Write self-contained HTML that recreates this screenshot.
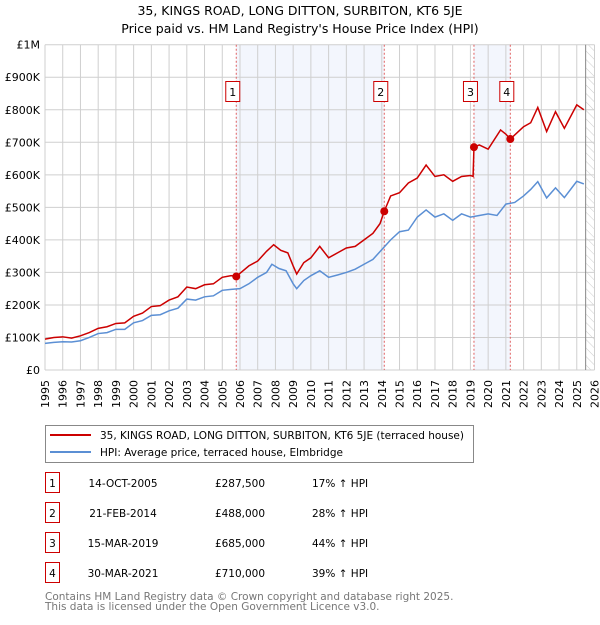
<!DOCTYPE html>
<html><head><meta charset="utf-8"><style>
body{margin:0;background:#fff;font-family:"Liberation Sans","DejaVu Sans",sans-serif;}
svg text{font-family:"DejaVu Sans","Liberation Sans",sans-serif;}
</style></head><body>
<svg id="chart" width="600" height="620" viewBox="0 0 600 620" xmlns="http://www.w3.org/2000/svg">
<defs><pattern id="hatch" width="6" height="6" patternUnits="userSpaceOnUse" patternTransform="rotate(-45)"><line x1="0" y1="0" x2="0" y2="6" stroke="#ccc" stroke-width="1"/></pattern></defs>
<text x="300" y="15" text-anchor="middle" font-size="12.5">35, KINGS ROAD, LONG DITTON, SURBITON, KT6 5JE</text>
<text x="300" y="33" text-anchor="middle" font-size="12.5">Price paid vs. HM Land Registry's House Price Index (HPI)</text>
<g id="plot"></g>
<g>
<rect x="45.5" y="425.5" width="428" height="37" fill="#fff" stroke="#888"/>
<line x1="50" y1="435" x2="91" y2="435" stroke="#cc0000" stroke-width="2"/>
<text x="100" y="439" font-size="10.5">35, KINGS ROAD, LONG DITTON, SURBITON, KT6 5JE (terraced house)</text>
<line x1="50" y1="452" x2="91" y2="452" stroke="#5b8fd4" stroke-width="2"/>
<text x="100" y="456" font-size="10.5">HPI: Average price, terraced house, Elmbridge</text>
</g>
<g id="table" font-size="10.5"></g>
<text x="45" y="600" font-size="10.5" fill="#777">Contains HM Land Registry data © Crown copyright and database right 2025.</text>
<text x="45" y="610" font-size="10.5" fill="#777">This data is licensed under the Open Government Licence v3.0.</text>
</svg>
<script>
const hpiYears=[1995,1995.5,1996,1996.5,1997,1997.5,1998,1998.5,1999,1999.5,2000,2000.5,2001,2001.5,2002,2002.5,2003,2003.5,2004,2004.5,2005,2005.5,2006,2006.5,2007,2007.5,2007.8,2008.2,2008.6,2009,2009.2,2009.6,2010,2010.5,2011,2011.5,2012,2012.5,2013,2013.5,2014,2014.5,2015,2015.5,2016,2016.5,2017,2017.5,2018,2018.5,2019,2019.5,2020,2020.5,2021,2021.5,2022,2022.4,2022.8,2023.3,2023.8,2024.3,2025,2025.4];
const hpiValues=[82,85,87,86,90,100,112,115,125,125,145,152,168,170,182,190,218,215,225,228,245,248,250,265,285,300,325,312,305,265,250,275,290,305,285,292,300,310,325,340,370,400,425,430,470,492,470,480,460,480,470,475,480,475,510,515,535,555,579,529,560,530,580,572];
const propYears=[1995,1995.5,1996,1996.5,1997,1997.5,1998,1998.5,1999,1999.5,2000,2000.5,2001,2001.5,2002,2002.5,2003,2003.5,2004,2004.5,2005,2005.5,2005.79,2006.5,2007,2007.5,2007.9,2008.3,2008.7,2009,2009.2,2009.6,2010,2010.5,2011,2011.5,2012,2012.5,2013,2013.5,2013.9,2014.14,2014.5,2015,2015.5,2016,2016.5,2017,2017.5,2018,2018.5,2019,2019.15,2019.2,2019.5,2020,2020.7,2021,2021.25,2022,2022.4,2022.8,2023.3,2023.8,2024.3,2025,2025.4];
const propValues=[95,100,102,98,105,115,128,133,143,145,165,175,195,198,215,225,255,250,262,265,285,290,287.5,320,335,365,385,368,360,320,295,330,345,380,345,360,375,380,400,420,450,488,535,545,575,590,630,595,600,580,595,598,595,685,692,679,738,725,710,748,760,807,733,794,743,815,800];
const saleLabels=["1","2","3","4"];
const saleYears=[2005.79,2014.14,2019.2,2021.25];
const saleValues=[287.5,488,685,710];
const saleDates=["14-OCT-2005","21-FEB-2014","15-MAR-2019","30-MAR-2021"];
const salePrices=["£287,500","£488,000","£685,000","£710,000"];
const saleHpi=["17% ↑ HPI","28% ↑ HPI","44% ↑ HPI","39% ↑ HPI"];
const yTicks=[0,100,200,300,400,500,600,700,800,900,1000];
const yTickLabels=["£0","£100K","£200K","£300K","£400K","£500K","£600K","£700K","£800K","£900K","£1M"];
const xTicks=[1995,1996,1997,1998,1999,2000,2001,2002,2003,2004,2005,2006,2007,2008,2009,2010,2011,2012,2013,2014,2015,2016,2017,2018,2019,2020,2021,2022,2023,2024,2025,2026];

const NS="http://www.w3.org/2000/svg";
const X0=45,X1=594.5,Y0=370,Y1=44.7;
const xs=y=>X0+(y-1995)/(2026-1995)*(X1-X0);
const ys=v=>Y0-v/1000*(Y0-Y1);
function mk(tag,attrs,parent){const e=document.createElementNS(NS,tag);for(const k in attrs)e.setAttribute(k,attrs[k]);parent.appendChild(e);return e;}
const plot=document.getElementById('plot');
mk('rect',{x:X0,y:Y1,width:X1-X0,height:Y0-Y1,fill:'#fff'},plot);
for(let i=0;i<saleYears.length;i+=2){
 const r=mk('rect',{x:xs(saleYears[i]),y:Y1,width:xs(saleYears[i+1])-xs(saleYears[i]),height:Y0-Y1,fill:'#f3f6fd'},plot);
 
 
}
const h=mk('rect',{x:xs(2025.5),y:Y1,width:X1-xs(2025.5),height:Y0-Y1,fill:'url(#hatch)'},plot);


xTicks.forEach(t=>{
 mk('line',{x1:xs(t),x2:xs(t),y1:Y1,y2:Y0,stroke:'#cfcfcf','stroke-width':1},plot);
 const tx=mk('text',{x:0,y:0,transform:`translate(${xs(t)+4},380) rotate(-90)`,'text-anchor':'end','font-size':11},plot);
 tx.textContent=t;
 
 
});
yTicks.forEach((t,i)=>{
 mk('line',{x1:X0,x2:X1,y1:ys(t),y2:ys(t),stroke:'#cfcfcf','stroke-width':1},plot);
 const tx=mk('text',{x:40,y:ys(t)+4,'text-anchor':'end','font-size':11},plot);
 tx.textContent=yTickLabels[i];
 
 
});
mk('line',{x1:xs(2025.5),x2:xs(2025.5),y1:Y1,y2:Y0,stroke:'#888','stroke-width':1},plot);
saleYears.forEach(y=>{
 const l=mk('line',{x1:xs(y),x2:xs(y),y1:Y1,y2:Y0,stroke:'#e06060','stroke-width':1,'stroke-dasharray':'2,2'},plot);
 
 
});
const hp=mk('polyline',{points:hpiYears.map((y,i)=>xs(y)+','+ys(hpiValues[i])).join(' '),fill:'none',stroke:'#5b8fd4','stroke-width':1.5},plot);


const pp=mk('polyline',{points:propYears.map((y,i)=>xs(y)+','+ys(propValues[i])).join(' '),fill:'none',stroke:'#cc0000','stroke-width':1.5},plot);


saleYears.forEach((y,i)=>{
 const c=mk('circle',{cx:xs(y),cy:ys(saleValues[i]),r:4,fill:'#cc0000'},plot);
 
 
 const g=mk('g',{},plot);
 
 
 mk('rect',{x:xs(y)-10.5,y:81.5,width:14,height:20,fill:'#fff',stroke:'#cc0000'},g);
 const t=mk('text',{x:xs(y)-3.5,y:96,'text-anchor':'middle','font-size':11},g);
 t.textContent=saleLabels[i];
});
const tb=document.getElementById('table');
saleLabels.forEach((s,i)=>{
 const yc=483+i*30;
 const g=mk('g',{},tb);
 
 
 mk('rect',{x:45.5,y:yc-10.5,width:14,height:20,fill:'#fff',stroke:'#cc0000'},g);
 const a=mk('text',{x:52.5,y:yc+4,'text-anchor':'middle'},g);a.textContent=s;
 const b=mk('text',{x:123,y:yc+4,'text-anchor':'middle'},g);b.textContent=saleDates[i];
 const c=mk('text',{x:240,y:yc+4,'text-anchor':'middle'},g);c.textContent=salePrices[i];
 const d=mk('text',{x:312,y:yc+4},g);d.textContent=saleHpi[i];
});
</script>
</body></html>
